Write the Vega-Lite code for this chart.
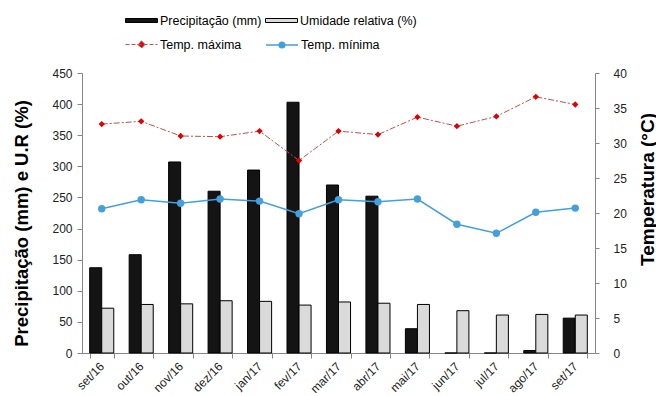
{
  "$schema": "https://vega.github.io/schema/vega-lite/v6.json",
  "width": 513,
  "height": 280,
  "autosize": "none",
  "padding": {"left": 82, "top": 73, "right": 61, "bottom": 43},
  "background": "white",
  "config": {
    "view": {"stroke": null},
    "font": "Liberation Sans",
    "axis": {"grid": false, "domainColor": "#868686", "tickColor": "#868686", "labelColor": "#222", "labelFont": "Liberation Sans", "labelFontSize": 12, "titleFont": "Liberation Sans", "titleFontSize": 18, "titleFontWeight": "bold", "titleColor": "black"}
  },
  "datasets": {
    "bars": [
      {"mes": "set/16", "serie": "Precipitação (mm)", "valor": 137},
      {"mes": "out/16", "serie": "Precipitação (mm)", "valor": 158},
      {"mes": "nov/16", "serie": "Precipitação (mm)", "valor": 307},
      {"mes": "dez/16", "serie": "Precipitação (mm)", "valor": 260},
      {"mes": "jan/17", "serie": "Precipitação (mm)", "valor": 294},
      {"mes": "fev/17", "serie": "Precipitação (mm)", "valor": 403},
      {"mes": "mar/17", "serie": "Precipitação (mm)", "valor": 270},
      {"mes": "abr/17", "serie": "Precipitação (mm)", "valor": 252},
      {"mes": "mai/17", "serie": "Precipitação (mm)", "valor": 39},
      {"mes": "jun/17", "serie": "Precipitação (mm)", "valor": 0},
      {"mes": "jul/17", "serie": "Precipitação (mm)", "valor": 0},
      {"mes": "ago/17", "serie": "Precipitação (mm)", "valor": 4},
      {"mes": "set/17", "serie": "Precipitação (mm)", "valor": 56},
      {"mes": "set/16", "serie": "Umidade relativa (%)", "valor": 72},
      {"mes": "out/16", "serie": "Umidade relativa (%)", "valor": 78},
      {"mes": "nov/16", "serie": "Umidade relativa (%)", "valor": 79},
      {"mes": "dez/16", "serie": "Umidade relativa (%)", "valor": 84},
      {"mes": "jan/17", "serie": "Umidade relativa (%)", "valor": 83},
      {"mes": "fev/17", "serie": "Umidade relativa (%)", "valor": 77},
      {"mes": "mar/17", "serie": "Umidade relativa (%)", "valor": 82},
      {"mes": "abr/17", "serie": "Umidade relativa (%)", "valor": 80},
      {"mes": "mai/17", "serie": "Umidade relativa (%)", "valor": 78},
      {"mes": "jun/17", "serie": "Umidade relativa (%)", "valor": 68},
      {"mes": "jul/17", "serie": "Umidade relativa (%)", "valor": 61},
      {"mes": "ago/17", "serie": "Umidade relativa (%)", "valor": 62},
      {"mes": "set/17", "serie": "Umidade relativa (%)", "valor": 61}
    ],
    "temps": [
      {"mes": "set/16", "serie": "Temp. máxima", "valor": 32.7},
      {"mes": "out/16", "serie": "Temp. máxima", "valor": 33.1},
      {"mes": "nov/16", "serie": "Temp. máxima", "valor": 31.0},
      {"mes": "dez/16", "serie": "Temp. máxima", "valor": 30.9},
      {"mes": "jan/17", "serie": "Temp. máxima", "valor": 31.7},
      {"mes": "fev/17", "serie": "Temp. máxima", "valor": 27.5},
      {"mes": "mar/17", "serie": "Temp. máxima", "valor": 31.7},
      {"mes": "abr/17", "serie": "Temp. máxima", "valor": 31.2},
      {"mes": "mai/17", "serie": "Temp. máxima", "valor": 33.7},
      {"mes": "jun/17", "serie": "Temp. máxima", "valor": 32.4},
      {"mes": "jul/17", "serie": "Temp. máxima", "valor": 33.8},
      {"mes": "ago/17", "serie": "Temp. máxima", "valor": 36.6},
      {"mes": "set/17", "serie": "Temp. máxima", "valor": 35.5},
      {"mes": "set/16", "serie": "Temp. mínima", "valor": 20.6},
      {"mes": "out/16", "serie": "Temp. mínima", "valor": 21.9},
      {"mes": "nov/16", "serie": "Temp. mínima", "valor": 21.4},
      {"mes": "dez/16", "serie": "Temp. mínima", "valor": 22.0},
      {"mes": "jan/17", "serie": "Temp. mínima", "valor": 21.7},
      {"mes": "fev/17", "serie": "Temp. mínima", "valor": 19.9},
      {"mes": "mar/17", "serie": "Temp. mínima", "valor": 21.9},
      {"mes": "abr/17", "serie": "Temp. mínima", "valor": 21.6},
      {"mes": "mai/17", "serie": "Temp. mínima", "valor": 22.0},
      {"mes": "jun/17", "serie": "Temp. mínima", "valor": 18.4},
      {"mes": "jul/17", "serie": "Temp. mínima", "valor": 17.1},
      {"mes": "ago/17", "serie": "Temp. mínima", "valor": 20.1},
      {"mes": "set/17", "serie": "Temp. mínima", "valor": 20.7}
    ]
  },
  "layer": [
    {
      "data": {"name": "bars"},
      "mark": {"type": "bar", "stroke": "black", "strokeWidth": 1},
      "encoding": {
        "x": {
          "field": "mes", "type": "nominal", "sort": null,
          "scale": {"domain": ["set/16","out/16","nov/16","dez/16","jan/17","fev/17","mar/17","abr/17","mai/17","jun/17","jul/17","ago/17","set/17"], "paddingInner": 0.39, "paddingOuter": 0.195},
          "axis": {"title": null, "labelAngle": -45, "labelAlign": "right", "labelBaseline": "middle", "labelPadding": 6, "tickBand": "extent", "tickSize": 5, "labelFontSize": 12}
        },
        "xOffset": {"field": "serie", "type": "nominal", "sort": ["Precipitação (mm)", "Umidade relativa (%)"], "scale": {"paddingInner": 0, "paddingOuter": 0}},
        "y": {
          "field": "valor", "type": "quantitative",
          "scale": {"domain": [0, 450], "nice": false},
          "axis": {"title": "Precipitação (mm) e U.R (%)", "values": [0,50,100,150,200,250,300,350,400,450], "tickSize": 5, "labelPadding": 5, "titleAngle": 270, "titleAlign": "center", "titleBaseline": "alphabetic", "titleX": -55, "titleFontSize": 18.5, "titleY": 150}
        },
        "fill": {
          "field": "serie", "type": "nominal",
          "scale": {"domain": ["Precipitação (mm)", "Umidade relativa (%)"], "range": ["#141414", "#dadada"]},
          "legend": {"orient": "none", "legendX": 45, "legendY": -61, "direction": "horizontal", "title": null, "symbolType": "M-2,-0.25H2V0.25H-2Z", "symbolSize": 256, "symbolStrokeColor": "black", "symbolStrokeWidth": 1, "symbolOffset": 6, "labelOffset": 10, "labelFontSize": 12.5, "labelFont": "Liberation Sans", "labelColor": "black", "columnPadding": 1}
        }
      }
    },
    {
      "data": {"name": "temps"},
      "encoding": {
        "x": {"field": "mes", "type": "nominal", "sort": null},
        "y": {
          "field": "valor", "type": "quantitative",
          "scale": {"domain": [0, 40], "nice": false},
          "axis": {"orient": "right", "title": "Temperatura (°C)", "values": [0,5,10,15,20,25,30,35,40], "tickSize": 4, "labelPadding": 14, "titleAngle": 270, "titleAlign": "center", "titleBaseline": "alphabetic", "titleX": 58, "titleY": 116, "titleFontSize": 19}
        }
      },
      "layer": [
        {
          "transform": [{"filter": "datum.serie === 'Temp. máxima'"}],
          "mark": {"type": "line", "strokeWidth": 1, "strokeDash": [6, 2, 2, 2]},
          "encoding": {
            "stroke": {
              "field": "serie", "type": "nominal",
              "scale": {"domain": ["Temp. máxima"], "range": ["#c0504d"]},
              "legend": {"orient": "none", "legendX": 45, "legendY": -37, "direction": "horizontal", "title": null, "symbolType": "M-2,0H2M0,-0.45L0.45,0L0,0.45L-0.45,0Z", "symbolSize": 256, "symbolFillColor": "#e00000", "symbolStrokeWidth": 1, "symbolDash": [4, 2], "symbolOffset": 6, "labelOffset": 10, "labelFontSize": 12.5, "labelFont": "Liberation Sans", "labelColor": "black"}
            }
          }
        },
        {
          "transform": [{"filter": "datum.serie === 'Temp. máxima'"}],
          "mark": {"type": "point", "shape": "diamond", "filled": true, "color": "#e00000", "size": 40, "opacity": 1},
          "encoding": {}
        },
        {
          "transform": [{"filter": "datum.serie === 'Temp. mínima'"}],
          "mark": {"type": "line", "strokeWidth": 1.5},
          "encoding": {
            "color": {
              "field": "serie", "type": "nominal",
              "scale": {"domain": ["Temp. mínima"], "range": ["#44a0dc"]},
              "legend": {"orient": "none", "legendX": 185, "legendY": -37, "direction": "horizontal", "title": null, "symbolType": "M-2,0H2M0.35,0A0.35,0.35 0 1,1 -0.35,0A0.35,0.35 0 1,1 0.35,0Z", "symbolSize": 256, "symbolFillColor": "#44a0dc", "symbolStrokeWidth": 1.5, "symbolOffset": 6, "labelOffset": 10, "labelFontSize": 12.5, "labelFont": "Liberation Sans", "labelColor": "black"}
            }
          }
        },
        {
          "transform": [{"filter": "datum.serie === 'Temp. mínima'"}],
          "mark": {"type": "point", "shape": "circle", "filled": true, "color": "#44a0dc", "size": 55, "opacity": 1},
          "encoding": {}
        }
      ]
    }
  ],
  "resolve": {"scale": {"y": "independent"}}
}
